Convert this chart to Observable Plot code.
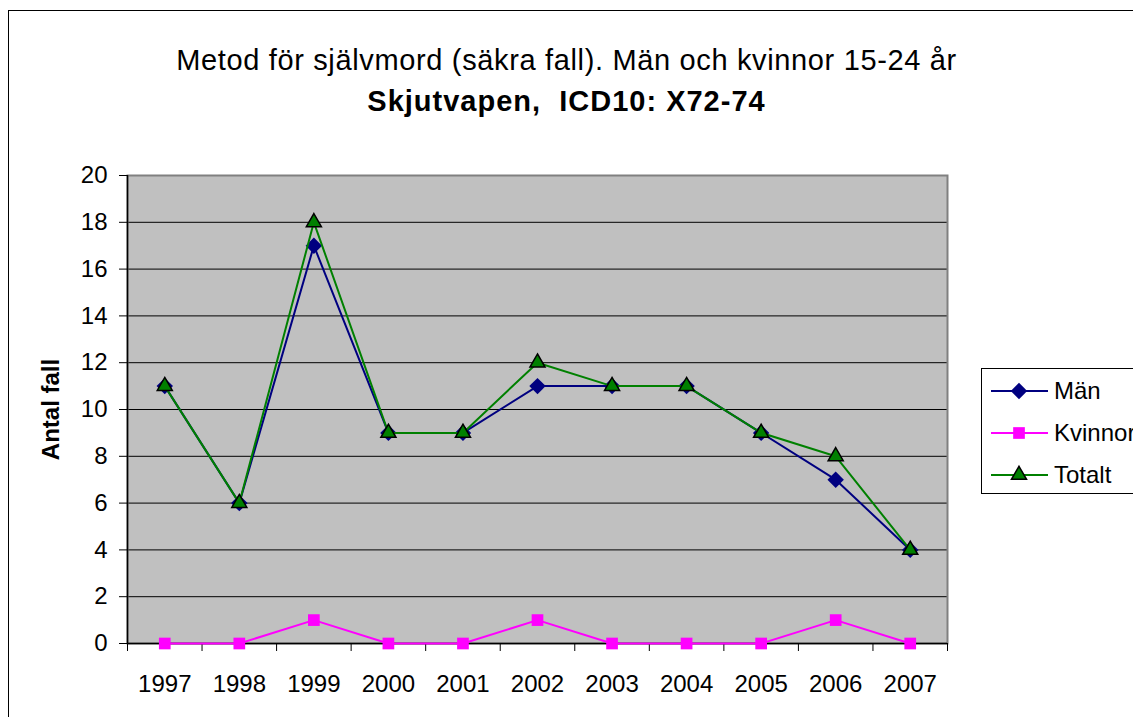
<!DOCTYPE html>
<html>
<head>
<meta charset="utf-8">
<script src="https://cdn.jsdelivr.net/npm/d3@7"></script>
<script src="https://cdn.jsdelivr.net/npm/@observablehq/plot@0.6"></script>
<style>
  html, body { margin: 0; padding: 0; background: #fff; }
  #wrap { position: relative; width: 1133px; height: 717px; overflow: hidden; font-family: "Liberation Sans", Arial, sans-serif; }
  #border { position: absolute; left: 8px; top: 10px; width: 2000px; height: 2000px; border-left: 1px solid #000; border-top: 1px solid #000; }
  .title { position: absolute; left: 0; width: 1133px; text-align: center; line-height: 1; white-space: pre; color: #000; }
  #t1 { top: 46px; font-size: 29px; letter-spacing: 0.65px; }
  #t2 { top: 87px; font-size: 29px; font-weight: bold; letter-spacing: 1px; }
  #chart { position: absolute; left: 0; top: 0; }
  #legend { position: absolute; left: 0; top: 0; }
</style>
</head>
<body>
<div id="wrap">
  <div id="border"></div>
  <div id="chart"></div>
  <div class="title" id="t1">Metod för självmord (säkra fall). Män och kvinnor 15-24 år</div>
  <div class="title" id="t2">Skjutvapen,  ICD10: X72-74</div>
  <svg id="legend" width="1133" height="717"></svg>
</div>
<script>
const years = [1997, 1998, 1999, 2000, 2001, 2002, 2003, 2004, 2005, 2006, 2007];
const man = [11, 6, 17, 9, 9, 11, 11, 11, 9, 7, 4];
const kvinnor = [0, 0, 1, 0, 0, 1, 0, 0, 0, 1, 0];
const totalt = [11, 6, 18, 9, 9, 12, 11, 11, 9, 8, 4];
const yTicks = [0, 2, 4, 6, 8, 10, 12, 14, 16, 18, 20];
const seriesNames = ["Män", "Kvinnor", "Totalt"];
const seriesColors = ["#000080", "#FF00FF", "#008000"];
const seriesSymbols = ["diamond2", "square", "triangle"];
const seriesR = [7.4, 6.6, 5.6];
const seriesStroke = ["none", "none", "#000"];
const yLabel = "Antal fall";

const seriesValues = [man, kvinnor, totalt];
const xDomain = [years[0] - 0.5, years[years.length - 1] + 0.5];
const boundaries = years.map(y => y - 0.5).concat([years[years.length - 1] + 0.5]);

const seriesMarks = seriesNames.flatMap((name, i) => {
  const rows = years.map((year, j) => ({year, value: seriesValues[i][j], series: name}));
  return [
    Plot.line(rows, {x: "year", y: "value", stroke: seriesColors[i], strokeWidth: 2}),
    Plot.dot(rows, {x: "year", y: "value", symbol: () => seriesSymbols[i], fill: seriesColors[i],
      stroke: seriesStroke[i], strokeWidth: 1.5, r: seriesR[i]})
  ];
});

const chart = Plot.plot({
  width: 1133,
  height: 717,
  marginLeft: 127,
  marginRight: 186,
  marginTop: 175,
  marginBottom: 74,
  style: {fontFamily: "Liberation Sans, Arial, sans-serif", fontSize: "24px", background: "transparent", color: "#000", overflow: "visible"},
  x: {domain: xDomain, type: "linear"},
  y: {domain: [0, 20]},
  symbol: {type: "identity"},
  marks: [
    Plot.frame({fill: "#C0C0C0", stroke: null}),
    Plot.gridY(yTicks, {stroke: "#000", strokeOpacity: 1, strokeWidth: 1}),
    Plot.frame({stroke: "#808080", strokeWidth: 2}),
    Plot.ruleX([xDomain[0]], {stroke: "#000", strokeWidth: 1.5}),
    Plot.ruleY([0], {stroke: "#000", strokeWidth: 1.5}),
    Plot.axisY(yTicks, {tickSize: 8, tickPadding: 12, label: null, stroke: "#000", fontSize: 24}),
    Plot.axisX(boundaries, {tickSize: 8, tickFormat: () => "", label: null, stroke: "#000"}),
    Plot.axisX(years, {tickSize: 0, tickPadding: 31, tickFormat: d => String(d), label: null, fontSize: 24}),
    Plot.text([yLabel], {frameAnchor: "left", dx: -76, rotate: -90, text: d => d, fontWeight: "bold", fontSize: 24, textAnchor: "middle", lineAnchor: "middle"}),
    ...seriesMarks
  ]
});
document.getElementById("chart").appendChild(chart);

// Legend
const svg = d3.select("#legend");
const lg = svg.append("g").attr("font-family", "Liberation Sans, Arial, sans-serif").attr("font-size", 24);
lg.append("rect").attr("x", 981.5).attr("y", 368.5).attr("width", 300).attr("height", 125)
  .attr("fill", "#fff").attr("stroke", "#000").attr("stroke-width", 1);
const rowY = [391, 433, 475];
seriesNames.forEach((name, i) => {
  const y = rowY[i];
  lg.append("line").attr("x1", 991).attr("x2", 1048).attr("y1", y).attr("y2", y)
    .attr("stroke", seriesColors[i]).attr("stroke-width", 2);
  const area = Math.PI * seriesR[i] * seriesR[i];
  const sym = {diamond2: d3.symbolDiamond2, square: d3.symbolSquare, triangle: d3.symbolTriangle}[seriesSymbols[i]];
  lg.append("path").attr("d", d3.symbol(sym, area)()).attr("transform", `translate(1019,${y})`)
    .attr("fill", seriesColors[i]).attr("stroke", seriesStroke[i]).attr("stroke-width", 1.5);
  lg.append("text").attr("x", 1054).attr("y", y).attr("dy", "0.35em").text(name);
});
</script>
</body>
</html>
